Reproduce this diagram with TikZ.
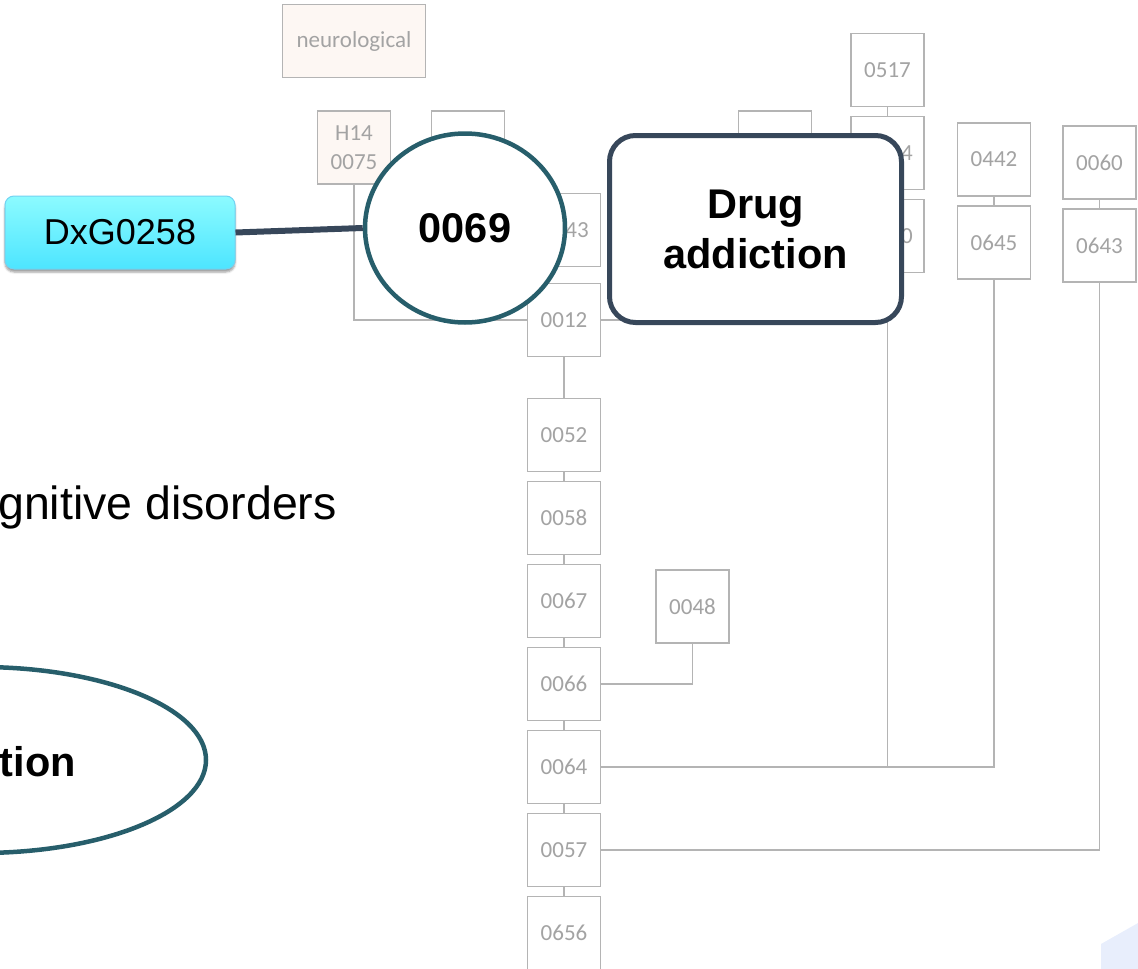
\documentclass[tikz,border=0pt]{standalone}
\usepackage{fontspec}
\setmainfont{Liberation Sans}
\newfontfamily\calib{Carlito}
\usetikzlibrary{shapes.geometric,positioning,shadows.blur}
\definecolor{treeline}{HTML}{B4B4B4}
\definecolor{treetext}{HTML}{A3A3A3}
\definecolor{neurofill}{HTML}{FDF7F3}
\definecolor{tealring}{HTML}{275E6B}
\definecolor{slate}{HTML}{37475A}
\definecolor{cyantop}{HTML}{8CFBFF}
\definecolor{cyanbot}{HTML}{4DE5FF}
\definecolor{cyanedge}{HTML}{72D3F2}
\definecolor{cornerbg}{HTML}{E8EEFC}
\begin{document}
\begin{tikzpicture}[x=1pt, y=-1pt,
  tb/.style={rectangle, draw=treeline, line width=1.5pt, fill=#1, minimum width=73pt, minimum height=73pt, inner sep=2pt, font=\calib\fontsize{23}{29}\selectfont, text=treetext, align=center},
  tb/.default=white,
  gt/.style={inner sep=0pt, font=\calib\fontsize{23}{29}\selectfont, text=treetext},
  tl/.style={draw=treeline, line width=1.5pt},
  big/.style={font=\fontsize{41.5}{50}\selectfont\bfseries, align=center}
]
  \clip (0,0) rectangle (1138,969);
  \fill[cornerbg] (1101,944) -- (1138,923) -- (1138,969) -- (1101,969) -- cycle;

  \node[tb=neurofill, minimum width=143pt] (neuro) at (354,41) {neurological};
  \node[tb=neurofill] (h14) at (354,147.5) {H14\\0075};
  \node[tb] (b1) at (468,147.5) {};
  \node[tb] (b43) at (564,230) {};
  \node[gt, anchor=east] (t43) at (589,230) {43};
  \node[tb] (n0012) at (564,320) {0012};
  \foreach \id [count=\i] in {0052,0058,0067,0066,0064,0057,0656}
    \node[tb] (c\id) at (564,352+83*\i) {\id};
  \node[tb] (n0048) at (692.5,606.5) {0048};
  \node[tb] (bdrug) at (775,147.5) {};
  \node[tb] (n0517) at (887.5,70) {0517};
  \node[tb] (b4) at (887.5,153) {};
  \node[gt, anchor=east] (t4) at (913,153) {4};
  \node[tb] (b0) at (887.5,236) {};
  \node[gt, anchor=east] (t0) at (913,236) {0};
  \node[tb] (n0442) at (994,159.5) {0442};
  \node[tb] (n0645) at (994,242.5) {0645};
  \node[tb] (n0060) at (1099.5,162.5) {0060};
  \node[tb] (n0643) at (1099.5,245.5) {0643};

  \foreach \a/\b in {n0012/c0052, c0052/c0058, c0058/c0067, c0067/c0066, c0066/c0064, c0064/c0057, c0057/c0656, n0517/b4, b4/b0, n0442/n0645, n0060/n0643}
    \draw[tl] (\a) -- (\b);
  \draw[tl] (h14.south) |- (n0012.west);
  \draw[tl] (n0012.east) -| (bdrug.south);
  \draw[tl] (n0048.south) |- (c0066.east);
  \draw[tl] (b0.south) |- (c0064.east);
  \draw[tl] (n0645.south) |- (c0064.east);
  \draw[tl] (n0643.south) |- (c0057.east);

  \node[draw=cyanedge, line width=1pt, rounded corners=9pt, top color=cyantop, bottom color=cyanbot, minimum width=230pt, minimum height=73pt, font=\fontsize{36}{40}\selectfont, blur shadow={shadow xshift=0pt, shadow yshift=-3pt}] (dxg) at (120,232.5) {DxG0258};
  \node[ellipse, draw=tealring, line width=4.5pt, fill=white, minimum width=200pt, minimum height=189pt, big] (n0069) at (465,228) {0069};
  \draw[slate, line width=6pt] (dxg.east) -- (n0069.west);
  \node[rectangle, rounded corners=26pt, draw=slate, line width=5pt, fill=white, minimum width=292pt, minimum height=187pt, big] (drug) at (755.5,229) {Drug\\addiction};

  \node[font=\fontsize{46.5}{50}\selectfont, anchor=base east, inner sep=0pt] (cog) at (337,519) {gnitive disorders};
  \node[ellipse, draw=tealring, line width=4.5pt, minimum width=452pt, minimum height=186pt] (ell) at (-20,760) {};
  \node[big, anchor=base east, inner sep=0pt] (tion) at (76,776) {tion};
\end{tikzpicture}
\end{document}
